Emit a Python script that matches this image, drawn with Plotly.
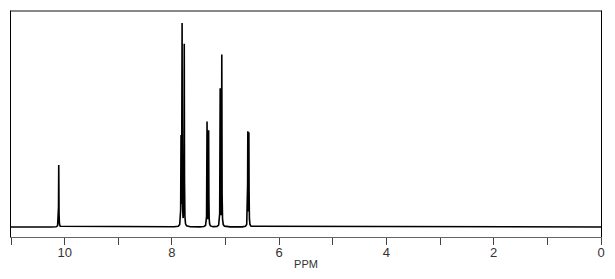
import numpy as np
import plotly.graph_objects as go

# Peak list (ppm, relative intensity)
peak_ppm = [10.11, 7.83, 7.81, 7.77, 7.345, 7.315, 7.10, 7.07, 6.585, 6.565]
peak_height = [62, 87, 201, 182, 105, 96, 137, 171, 94, 93]
line_width = 0.003  # Lorentzian half-width (ppm)

tick_vals = [10, 8, 6, 4, 2, 0]
tick_text = ["10", "8", "6", "4", "2", "0"]

ppm = np.arange(0.0, 11.0001, 0.0004)
intensity = np.zeros_like(ppm)
for p, h in zip(peak_ppm, peak_height):
    intensity += h * line_width**2 / (line_width**2 + (ppm - p) ** 2)

fig = go.Figure()
fig.add_trace(go.Scatter(x=ppm, y=intensity, mode="lines",
                         line=dict(color="black", width=1.6),
                         hoverinfo="skip", showlegend=False))

fig.update_layout(
    width=615, height=279,
    margin=dict(l=11, r=14, t=11, b=42, autoexpand=False),
    plot_bgcolor="white", paper_bgcolor="white",
    font=dict(family="Liberation Sans, Arial, sans-serif", size=12, color="#333"),
)
fig.update_xaxes(
    range=[11, 0], showgrid=False, zeroline=False, automargin=False,
    showline=True, linecolor="#666", linewidth=1.3, mirror=True,
    tickmode="array", tickvals=tick_vals, ticktext=tick_text,
    ticks="outside", ticklen=7, tickcolor="#444", tickwidth=1,
    ticklabelstandoff=-4,
    minor=dict(tickvals=[11, 9, 7, 5, 3, 1], ticks="outside", ticklen=7,
               tickcolor="#444", tickwidth=1),
    title=dict(text="PPM", standoff=1, font=dict(size=11, color="#333")),
    tickfont=dict(size=13, color="#333"),
)
fig.update_yaxes(
    range=[-10, 216], showgrid=False, zeroline=False, showticklabels=False,
    automargin=False,
    showline=True, linecolor="black", linewidth=1.3, mirror=True, ticks="",
)
fig.add_shape(type="line", xref="paper", yref="paper", x0=0, x1=1, y0=1, y1=1,
              line=dict(color="#888", width=2))

fig.write_html("out.html")
